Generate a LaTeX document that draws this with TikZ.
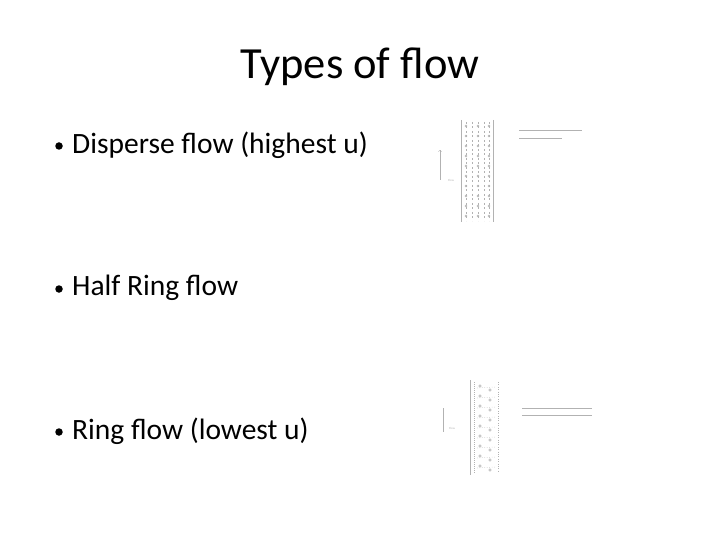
\documentclass[tikz,border=0pt]{standalone}
\usepackage{fontspec}
\setmainfont{Carlito}
\begin{document}
\begin{tikzpicture}[x=1pt,y=-1pt,
  bul/.style={anchor=west,font=\fontsize{29.5}{33}\selectfont,inner sep=0},
  dot/.style={circle,fill=black,inner sep=0,minimum size=7.5pt},
  gl/.style={gray!60,line width=0.4pt},
  tiny/.style={gray!60,line width=0.5pt}]
\useasboundingbox (0,0) rectangle (720,540);
\node[font=\fontsize{44.5}{50}\selectfont] (title) at (360,67) {Types of flow};
\node[dot] (d1) at (59,146) {};
\node[dot] (d2) at (59,289) {};
\node[dot] (d3) at (59,432) {};
\node[bul] (b1) at (72,145) {Disperse flow (highest u)};
\node[bul] (b2) at (72,288) {Half Ring flow};
\node[bul] (b3) at (72,431) {Ring flow (lowest u)};
% disperse image
\draw[gl,->] (440,180) -- (440,150);
\node[gray!60,font=\fontsize{3}{3}\selectfont] (f1) at (451,180) {Flow};
\draw[gl] (461,120) -- (461,222);
\draw[gl] (493,120) -- (493,222);
\foreach \x in {466,472,478,484,489}{
  \draw[tiny,dash pattern=on 2pt off 2.5pt] (\x,122) -- (\x,221);}
\foreach \y in {126,136,...,216}{
  \foreach \x in {466,478,489}{\draw[tiny] (\x,\y) circle (1pt);}}
\draw[tiny] (519,130) -- (582,130);
\draw[tiny] (519,138) -- (562,138);
% ring image
\draw[gl] (443,408) -- (443,432);
\node[gray!60,font=\fontsize{3}{3}\selectfont] (f2) at (452,428) {Flow};
\draw[gl] (470,380) -- (470,475);
\draw[gl,dash pattern=on 1pt off 1pt] (474,382) -- (474,473);
\draw[gl,dotted] (498,382) -- (498,473);
\foreach \y in {386,396,...,466}{
  \draw[tiny] (480,\y) circle (1.2pt);
  \draw[tiny] (490,\y+4) circle (1.2pt);
  \draw[tiny,dotted] (477,\y+2) -- (496,\y+1);}
\draw[tiny] (522,408) -- (592,408);
\draw[tiny] (522,415) -- (592,415);
\end{tikzpicture}
\end{document}
